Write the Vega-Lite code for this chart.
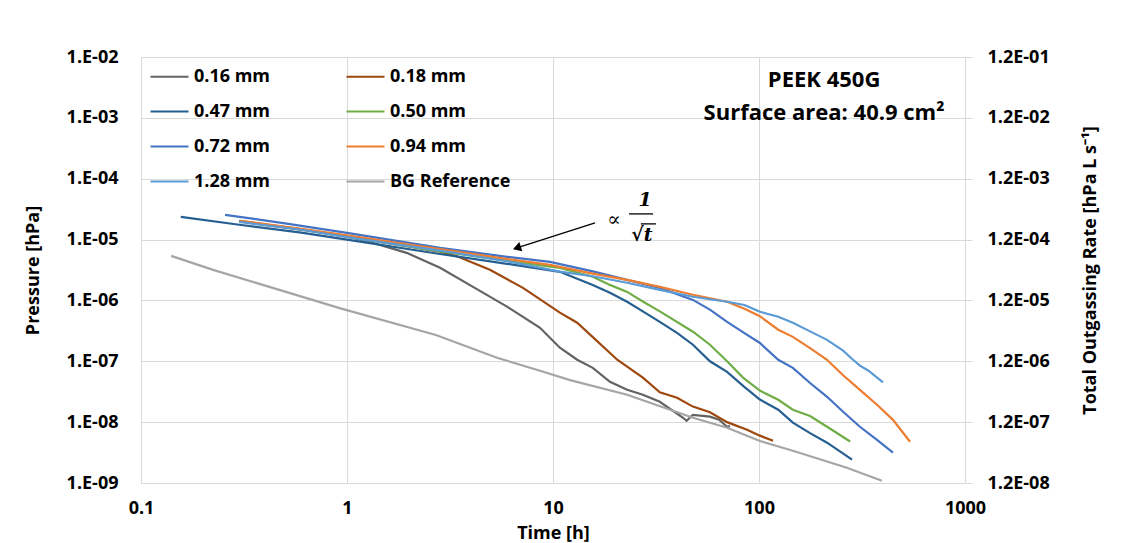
{
"$schema":"https://vega.github.io/schema/vega-lite/v6.json",
"width":824,"height":426,
"autosize":{"type":"none"},
"padding":{"left":141,"top":57,"right":159,"bottom":60},
"background":"white",
"config":{"font":"Open Sans","view":{"stroke":null},
 "axis":{"labelFont":"Open Sans","labelFontSize":18,"labelFontWeight":"bold","labelColor":"#000000","titleFont":"Open Sans","titleFontSize":18,"titleFontWeight":"bold","titleColor":"#000000","gridColor":"#d9d9d9","gridWidth":1,"domainColor":"#d9d9d9","tickColor":"#d9d9d9","labelOverlap":false,"labelFlush":false},
 "legend":{"labelFont":"Open Sans"}},
"datasets":{"curves":[
{"series":"0.16 mm","t":0.3,"p":2.0e-5},{"series":"0.16 mm","t":0.6,"p":1.45e-5},{"series":"0.16 mm","t":0.94,"p":1.19e-5},{"series":"0.16 mm","t":1.34,"p":8.8e-6},{"series":"0.16 mm","t":1.95,"p":6.05e-6},{"series":"0.16 mm","t":2.83,"p":3.43e-6},{"series":"0.16 mm","t":4.09,"p":1.67e-6},{"series":"0.16 mm","t":5.98,"p":7.9e-7},{"series":"0.16 mm","t":8.65,"p":3.55e-7},{"series":"0.16 mm","t":10.8,"p":1.67e-7},{"series":"0.16 mm","t":13.1,"p":1.06e-7},{"series":"0.16 mm","t":15.6,"p":7.8e-8},{"series":"0.16 mm","t":18.9,"p":4.6e-8},{"series":"0.16 mm","t":22.9,"p":3.4e-8},{"series":"0.16 mm","t":27.3,"p":2.82e-8},{"series":"0.16 mm","t":33,"p":2.16e-8},{"series":"0.16 mm","t":42.8,"p":1.18e-8},{"series":"0.16 mm","t":44.5,"p":1.05e-8},{"series":"0.16 mm","t":47.8,"p":1.32e-8},{"series":"0.16 mm","t":57.8,"p":1.23e-8},{"series":"0.16 mm","t":64,"p":1.1e-8},{"series":"0.16 mm","t":70,"p":8.4e-9},{"series":"0.16 mm","t":72.3,"p":8.6e-9},
{"series":"0.18 mm","t":0.3,"p":2.03e-5},{"series":"0.18 mm","t":0.6,"p":1.47e-5},{"series":"0.18 mm","t":1.0,"p":1.12e-5},{"series":"0.18 mm","t":2.0,"p":7.7e-6},{"series":"0.18 mm","t":2.83,"p":6.3e-6},{"series":"0.18 mm","t":3.42,"p":5.3e-6},{"series":"0.18 mm","t":4.94,"p":3.18e-6},{"series":"0.18 mm","t":7.15,"p":1.61e-6},{"series":"0.18 mm","t":10.8,"p":6.3e-7},{"series":"0.18 mm","t":13.1,"p":4.3e-7},{"series":"0.18 mm","t":15.6,"p":2.5e-7},{"series":"0.18 mm","t":20.5,"p":1.06e-7},{"series":"0.18 mm","t":27.3,"p":5.4e-8},{"series":"0.18 mm","t":33,"p":3.1e-8},{"series":"0.18 mm","t":40,"p":2.52e-8},{"series":"0.18 mm","t":47.8,"p":1.8e-8},{"series":"0.18 mm","t":57.8,"p":1.45e-8},{"series":"0.18 mm","t":70,"p":1.0e-8},{"series":"0.18 mm","t":87.5,"p":7.5e-9},{"series":"0.18 mm","t":101,"p":6.0e-9},{"series":"0.18 mm","t":117,"p":4.95e-9},
{"series":"0.47 mm","t":0.156,"p":2.36e-5},{"series":"0.47 mm","t":0.3,"p":1.75e-5},{"series":"0.47 mm","t":0.6,"p":1.3e-5},{"series":"0.47 mm","t":1.0,"p":1.0e-5},{"series":"0.47 mm","t":2.83,"p":5.8e-6},{"series":"0.47 mm","t":5.98,"p":4.0e-6},{"series":"0.47 mm","t":10.8,"p":2.95e-6},{"series":"0.47 mm","t":15.6,"p":1.8e-6},{"series":"0.47 mm","t":18.9,"p":1.34e-6},{"series":"0.47 mm","t":22.9,"p":9.5e-7},{"series":"0.47 mm","t":27.3,"p":6.6e-7},{"series":"0.47 mm","t":33,"p":4.45e-7},{"series":"0.47 mm","t":40,"p":2.94e-7},{"series":"0.47 mm","t":47.8,"p":1.87e-7},{"series":"0.47 mm","t":57.8,"p":1.0e-7},{"series":"0.47 mm","t":70,"p":6.7e-8},{"series":"0.47 mm","t":84,"p":3.9e-8},{"series":"0.47 mm","t":101,"p":2.35e-8},{"series":"0.47 mm","t":124,"p":1.6e-8},{"series":"0.47 mm","t":146,"p":9.8e-9},{"series":"0.47 mm","t":177,"p":6.6e-9},{"series":"0.47 mm","t":214,"p":4.6e-9},{"series":"0.47 mm","t":283,"p":2.42e-9},
{"series":"0.50 mm","t":0.3,"p":2.0e-5},{"series":"0.50 mm","t":0.6,"p":1.47e-5},{"series":"0.50 mm","t":1.0,"p":1.12e-5},{"series":"0.50 mm","t":2.83,"p":6.4e-6},{"series":"0.50 mm","t":5.98,"p":4.5e-6},{"series":"0.50 mm","t":10.8,"p":3.43e-6},{"series":"0.50 mm","t":15.6,"p":2.45e-6},{"series":"0.50 mm","t":18.9,"p":1.8e-6},{"series":"0.50 mm","t":22.9,"p":1.38e-6},{"series":"0.50 mm","t":27.3,"p":9.6e-7},{"series":"0.50 mm","t":33,"p":6.6e-7},{"series":"0.50 mm","t":47.8,"p":3.06e-7},{"series":"0.50 mm","t":57.8,"p":1.87e-7},{"series":"0.50 mm","t":70,"p":1.0e-7},{"series":"0.50 mm","t":83.6,"p":5.4e-8},{"series":"0.50 mm","t":101,"p":3.3e-8},{"series":"0.50 mm","t":124,"p":2.33e-8},{"series":"0.50 mm","t":146,"p":1.6e-8},{"series":"0.50 mm","t":177,"p":1.26e-8},{"series":"0.50 mm","t":214,"p":8.4e-9},{"series":"0.50 mm","t":277,"p":4.8e-9},
{"series":"0.72 mm","t":0.256,"p":2.55e-5},{"series":"0.72 mm","t":0.5,"p":1.85e-5},{"series":"0.72 mm","t":1.0,"p":1.29e-5},{"series":"0.72 mm","t":2.83,"p":7.3e-6},{"series":"0.72 mm","t":5.98,"p":5.2e-6},{"series":"0.72 mm","t":9.67,"p":4.3e-6},{"series":"0.72 mm","t":15.6,"p":3.0e-6},{"series":"0.72 mm","t":22.9,"p":2.18e-6},{"series":"0.72 mm","t":33,"p":1.61e-6},{"series":"0.72 mm","t":47.8,"p":1.02e-6},{"series":"0.72 mm","t":58,"p":7.0e-7},{"series":"0.72 mm","t":70,"p":4.45e-7},{"series":"0.72 mm","t":85,"p":2.9e-7},{"series":"0.72 mm","t":101,"p":2.0e-7},{"series":"0.72 mm","t":124,"p":1.06e-7},{"series":"0.72 mm","t":146,"p":7.8e-8},{"series":"0.72 mm","t":177,"p":4.4e-8},{"series":"0.72 mm","t":214,"p":2.61e-8},{"series":"0.72 mm","t":256,"p":1.48e-8},{"series":"0.72 mm","t":309,"p":8.4e-9},{"series":"0.72 mm","t":374,"p":5.1e-9},{"series":"0.72 mm","t":447,"p":3.15e-9},
{"series":"0.94 mm","t":0.303,"p":2.03e-5},{"series":"0.94 mm","t":0.6,"p":1.5e-5},{"series":"0.94 mm","t":1.0,"p":1.17e-5},{"series":"0.94 mm","t":2.83,"p":7.0e-6},{"series":"0.94 mm","t":5.98,"p":4.8e-6},{"series":"0.94 mm","t":9.67,"p":3.85e-6},{"series":"0.94 mm","t":15.6,"p":2.75e-6},{"series":"0.94 mm","t":22.9,"p":2.18e-6},{"series":"0.94 mm","t":33,"p":1.67e-6},{"series":"0.94 mm","t":47.8,"p":1.24e-6},{"series":"0.94 mm","t":70,"p":9.5e-7},{"series":"0.94 mm","t":85,"p":7.3e-7},{"series":"0.94 mm","t":101,"p":5.5e-7},{"series":"0.94 mm","t":124,"p":3.3e-7},{"series":"0.94 mm","t":146,"p":2.52e-7},{"series":"0.94 mm","t":177,"p":1.65e-7},{"series":"0.94 mm","t":214,"p":1.06e-7},{"series":"0.94 mm","t":256,"p":5.9e-8},{"series":"0.94 mm","t":309,"p":3.4e-8},{"series":"0.94 mm","t":374,"p":1.93e-8},{"series":"0.94 mm","t":447,"p":1.09e-8},{"series":"0.94 mm","t":541,"p":4.77e-9},
{"series":"1.28 mm","t":0.3,"p":1.95e-5},{"series":"1.28 mm","t":0.6,"p":1.45e-5},{"series":"1.28 mm","t":1.0,"p":1.1e-5},{"series":"1.28 mm","t":2.83,"p":6.6e-6},{"series":"1.28 mm","t":5.98,"p":4.4e-6},{"series":"1.28 mm","t":10.8,"p":2.97e-6},{"series":"1.28 mm","t":15.6,"p":2.5e-6},{"series":"1.28 mm","t":22.9,"p":1.95e-6},{"series":"1.28 mm","t":33,"p":1.49e-6},{"series":"1.28 mm","t":47.8,"p":1.15e-6},{"series":"1.28 mm","t":70,"p":9.5e-7},{"series":"1.28 mm","t":85,"p":8.4e-7},{"series":"1.28 mm","t":101,"p":6.5e-7},{"series":"1.28 mm","t":124,"p":5.4e-7},{"series":"1.28 mm","t":146,"p":4.3e-7},{"series":"1.28 mm","t":177,"p":3.1e-7},{"series":"1.28 mm","t":214,"p":2.25e-7},{"series":"1.28 mm","t":256,"p":1.5e-7},{"series":"1.28 mm","t":286,"p":1.06e-7},{"series":"1.28 mm","t":309,"p":8.5e-8},{"series":"1.28 mm","t":340,"p":7.0e-8},{"series":"1.28 mm","t":400,"p":4.5e-8},
{"series":"BG Reference","t":0.14,"p":5.4e-6},{"series":"BG Reference","t":0.224,"p":3.18e-6},{"series":"BG Reference","t":0.39,"p":1.8e-6},{"series":"BG Reference","t":0.93,"p":7.4e-7},{"series":"BG Reference","t":2.7,"p":2.7e-7},{"series":"BG Reference","t":5.35,"p":1.14e-7},{"series":"BG Reference","t":8.65,"p":7.0e-8},{"series":"BG Reference","t":12.1,"p":4.9e-8},{"series":"BG Reference","t":22.9,"p":2.82e-8},{"series":"BG Reference","t":47.8,"p":1.18e-8},{"series":"BG Reference","t":70,"p":8.1e-9},{"series":"BG Reference","t":101,"p":4.9e-9},{"series":"BG Reference","t":150,"p":3.3e-9},{"series":"BG Reference","t":267,"p":1.78e-9},{"series":"BG Reference","t":395,"p":1.09e-9}
]},
"layer":[
{"layer":[
{"data":{"name":"curves"},
 "mark":{"type":"line"},
 "encoding":{
  "x":{"field":"t","type":"quantitative","scale":{"type":"log","domain":[0.1,1000]},"axis":{"values":[0.1,1,10,100,1000],"format":"~g","title":"Time [h]","grid":true,"domain":false,"ticks":false,"tickSize":0,"labelPadding":16,"titlePadding":7}},
  "y":{"field":"p","type":"quantitative","scale":{"type":"log","domain":[1e-9,1e-2]},"axis":{"orient":"left","values":[1e-9,1e-8,1e-7,1e-6,1e-5,1e-4,1e-3,1e-2],"labelExpr":"'1.E-0' + round(-log(datum.value)/LN10)","title":"Pressure [hPa]","grid":true,"domain":false,"ticks":false,"tickSize":0,"labelPadding":23,"titlePadding":24}},
  "color":{"field":"series","type":"nominal","scale":{"domain":["0.16 mm","0.18 mm","0.47 mm","0.50 mm","0.72 mm","0.94 mm","1.28 mm","BG Reference"],"range":["#636363","#9E480E","#255E91","#70AD47","#4472C4","#ED7D31","#5B9BD5","#A5A5A5"]},
   "legend":{"title":null,"orient":"none","legendX":8,"legendY":-1,"columns":2,"direction":"horizontal","symbolType":"stroke","symbolSize":1444,"labelFontSize":18,"labelFontWeight":"bold","labelColor":"#000000","columnPadding":71,"rowPadding":5,"labelOffset":4,"padding":0}},
  "strokeWidth":{"field":"series","type":"nominal","scale":{"domain":["0.16 mm","0.18 mm","0.47 mm","0.50 mm","0.72 mm","0.94 mm","1.28 mm","BG Reference"],"range":[2.2,2.2,2.2,2.2,2.2,2.2,4,2.2]},
   "legend":{"title":null,"orient":"none","legendX":8,"legendY":-1,"columns":2,"direction":"horizontal","symbolType":"stroke","symbolSize":1444,"labelFontSize":18,"labelFontWeight":"bold","labelColor":"#000000","columnPadding":71,"rowPadding":5,"labelOffset":4,"padding":0}}
 }},
{"data":{"values":[{"t":16.0,"p":1.88e-5,"t2":6.68,"p2":7.3e-6}]},
 "mark":{"type":"rule","color":"#000000","strokeWidth":1.3},
 "encoding":{"x":{"field":"t","type":"quantitative"},"y":{"field":"p","type":"quantitative"},"x2":{"field":"t2"},"y2":{"field":"p2"}}},
{"data":{"values":[{"t":6.68,"p":7.3e-6}]},
 "mark":{"type":"point","shape":"triangle-up","angle":252,"size":90,"filled":true,"color":"#000000","opacity":1},
 "encoding":{"x":{"field":"t","type":"quantitative"},"y":{"field":"p","type":"quantitative"}}},
{"data":{"values":[{"t":23.4,"t2":30.6,"p":2.64e-5},{"t":26.7,"t2":31.6,"p":1.81e-5}]},
 "mark":{"type":"rule","color":"#000000","strokeWidth":1.3},
 "encoding":{"x":{"field":"t","type":"quantitative"},"x2":{"field":"t2"},"y":{"field":"p","type":"quantitative"}}},
{"data":{"values":[{"t":19.8,"p":2.1e-5,"label":"∝"}]},
 "mark":{"type":"text","font":"DejaVu Serif","fontSize":20,"color":"#000000","baseline":"middle","align":"center"},
 "encoding":{"x":{"field":"t","type":"quantitative"},"y":{"field":"p","type":"quantitative"},"text":{"field":"label"}}},
{"data":{"values":[{"t":28,"p":4.4e-5,"label":"1"},{"t":27.0,"p":1.19e-5,"label":"√t"}]},
 "mark":{"type":"text","font":"DejaVu Serif","fontSize":19,"fontWeight":"bold","fontStyle":"italic","color":"#000000","baseline":"middle","align":"center"},
 "encoding":{"x":{"field":"t","type":"quantitative"},"y":{"field":"p","type":"quantitative"},"text":{"field":"label"}}},
{"data":{"values":[{"t":207,"p":4.19e-3,"label":"PEEK 450G"},{"t":207,"p":1.2e-3,"label":"Surface area: 40.9 cm²"}]},
 "mark":{"type":"text","font":"Open Sans","fontSize":22,"fontWeight":"bold","color":"#000000","baseline":"middle","align":"center"},
 "encoding":{"x":{"field":"t","type":"quantitative"},"y":{"field":"p","type":"quantitative"},"text":{"field":"label"}}}
]},
{"data":{"values":[{"p":1e-5}]},
 "mark":{"type":"point","opacity":0},
 "encoding":{
  "y":{"field":"p","type":"quantitative","axis":{"orient":"right","values":[1e-9,1e-8,1e-7,1e-6,1e-5,1e-4,1e-3,1e-2],"labelExpr":"'1.2E-0' + (round(-log(datum.value)/LN10) - 1)","title":"Total Outgassing Rate [hPa L s⁻¹]","grid":false,"domain":true,"ticks":true,"tickSize":7,"labelPadding":15,"titlePadding":50,"titleAngle":270}}
 }}
],
"resolve":{"axis":{"y":"independent"}}
}
